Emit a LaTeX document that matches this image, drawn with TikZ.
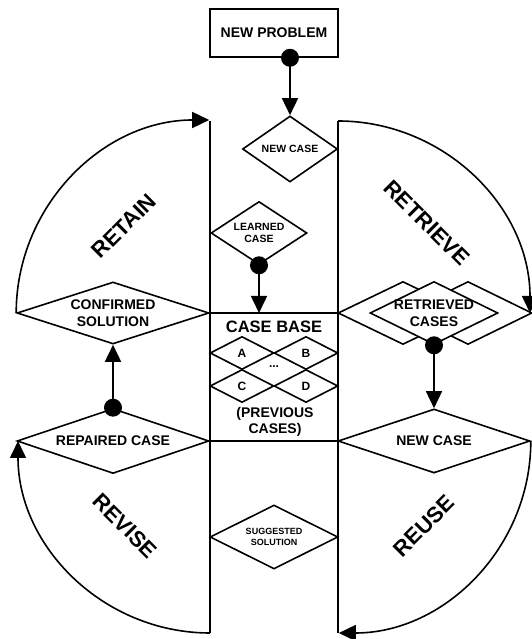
\documentclass[tikz,border=0pt]{standalone}
\usepackage{fontspec}
\setmainfont{Liberation Sans}
\usetikzlibrary{shapes.geometric,arrows.meta}

\tikzset{
	case/.style={diamond, draw, line width=1.6pt, inner sep=0pt, align=center, font=\bfseries\fontsize{14}{16.7}\selectfont},
	small/.style={font=\bfseries\fontsize{10.5}{12.5}\selectfont},
	phase/.style={font=\bfseries\fontsize{22}{24}\selectfont},
	flow/.style={line width=1.6pt, -{Triangle[length=17pt,width=16pt]}},
	wire/.style={line width=1.6pt},
}

\begin{document}
\begin{tikzpicture}[x=1pt,y=1pt]
	\useasboundingbox (0,0) rectangle (531,639);

	\node[draw, line width=1.6pt, minimum width=128pt, minimum height=48pt, font=\bfseries\fontsize{14}{16}\selectfont] at (274,606) (prob) {NEW PROBLEM};
	\node[case, small, minimum width=95pt, minimum height=66pt, shape aspect=1.44] at (290,490) (newcase) {NEW CASE};
	\node[case, small, minimum width=96pt, minimum height=63pt, shape aspect=1.52] at (259,406) (learned) {LEARNED\\CASE};

	\node[case, minimum width=192pt, minimum height=62pt, shape aspect=3.1] at (113,326) (confirmed) {CONFIRMED\\SOLUTION};
	\node[case, minimum width=192pt, minimum height=65pt, shape aspect=3] at (113,198) (repaired) {REPAIRED CASE};
	\node[case, minimum width=192pt, minimum height=64pt, shape aspect=3] at (434,198) (reusecase) {NEW CASE};
	\node[case, font=\bfseries\fontsize{9}{11}\selectfont, minimum width=128pt, minimum height=64pt, shape aspect=2] at (274,102) (suggested) {SUGGESTED\\SOLUTION};

	% retrieved cases, middle one on top
	\node[case, minimum width=130pt, minimum height=63pt] at (403,326) (retrievedA) {};
	\node[case, minimum width=128pt, minimum height=63pt] at (468,326) (retrievedC) {};
	\node[case, fill=white, minimum width=128pt, minimum height=63pt, label={[align=center, font=\bfseries\fontsize{14}{16.7}\selectfont]center:{RETRIEVED\\CASES}}] at (434,326) (retrieved) {};

	% case base
	\node[font=\bfseries\fontsize{16.5}{18}\selectfont] at (274,312) (casebase) {CASE BASE};
	\node[case, font=\bfseries\fontsize{12}{14}\selectfont, minimum width=64pt, minimum height=33pt] at (242,286) (A) {A};
	\node[case, font=\bfseries\fontsize{12}{14}\selectfont, minimum width=64pt, minimum height=33pt] at (306,286) (B) {B};
	\node[case, font=\bfseries\fontsize{12}{14}\selectfont, minimum width=64pt, minimum height=33pt] at (242,253) (C) {C};
	\node[case, font=\bfseries\fontsize{12}{14}\selectfont, minimum width=64pt, minimum height=33pt] at (306,253) (D) {D};
	\node[font=\bfseries\fontsize{12}{14}\selectfont] at (274,272) (more) {...};
	\node[align=center, font=\bfseries\fontsize{14}{15.5}\selectfont] at (275,217) (previous) {(PREVIOUS\\CASES)};

	\node[phase, rotate=45] at (124,413) (retain) {RETAIN};
	\node[phase, rotate=-45] at (427,416) (retrieve) {RETRIEVE};
	\node[phase, rotate=-45] at (125,113) (revise) {REVISE};
	\node[phase, rotate=45] at (424,113) (reuse) {REUSE};

	\coordinate (ltop) at (210,518);
	\coordinate (lbot) at (210,6);
	\coordinate (rtop) at (338,518);
	\coordinate (rbot) at (338,6);
	\draw[wire] (ltop) -- (lbot);
	\draw[wire] (rtop) -- (rbot);
	\draw[wire] (confirmed.east) -- (retrievedA.west);
	\draw[wire] (repaired.east) -- (reusecase.west);

	% the four phases
	\draw[flow] (confirmed.west) arc[start angle=180, end angle=90, radius=193pt];
	\draw[flow] (rtop) arc[start angle=90, end angle=0, radius=192pt];
	\draw[flow] (lbot) arc[start angle=270, end angle=180, radius=192pt];
	\draw[flow] (reusecase.east) arc[start angle=0, end angle=-90, radius=192pt];

	\fill (newcase |- prob.south) circle (9pt);
	\draw[flow] (newcase |- prob.south) -- (newcase.north);
	\fill (learned.south) circle (9pt);
	\draw[flow] (learned.south) -- (learned |- confirmed.east);
	\fill (retrieved.south) circle (9pt);
	\draw[flow] (retrieved.south) -- (reusecase.north);
	\fill (repaired.north) circle (9pt);
	\draw[flow] (repaired.north) -- (confirmed.south);
\end{tikzpicture}
\end{document}
